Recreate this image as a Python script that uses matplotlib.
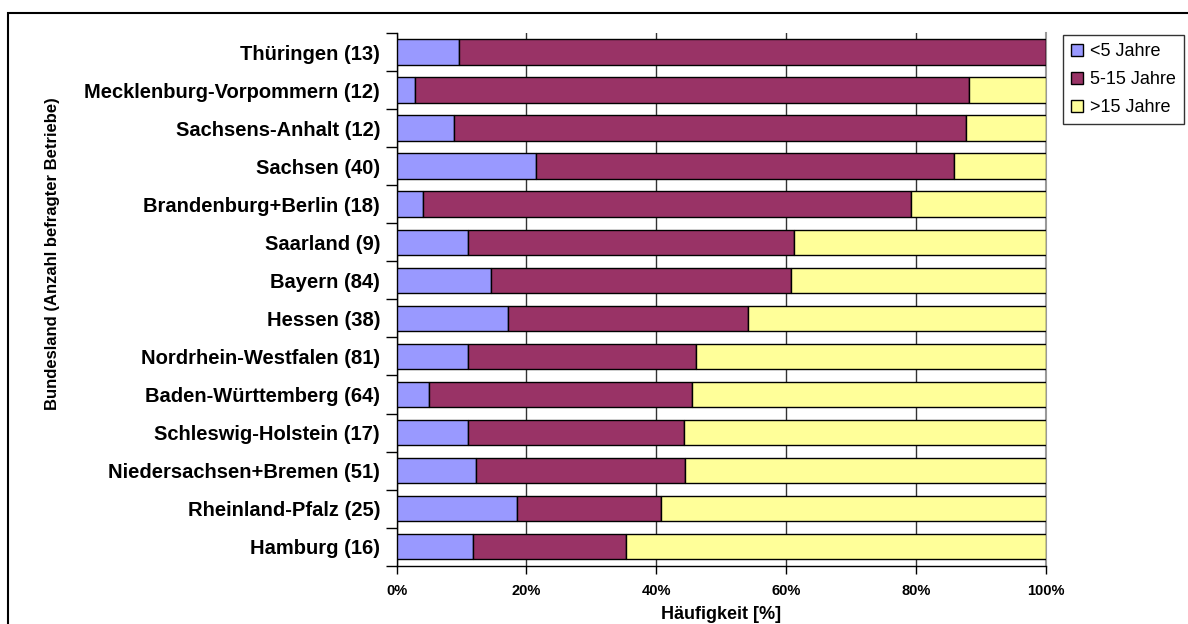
import numpy as np
import matplotlib.pyplot as plt
from matplotlib.patches import Rectangle
from matplotlib.ticker import FixedLocator, PercentFormatter

plt.rcParams['font.family'] = ['Liberation Sans', 'DejaVu Sans']

# categories top to bottom
states = ["Thüringen (13)", "Mecklenburg-Vorpommern (12)", "Sachsens-Anhalt (12)",
          "Sachsen (40)", "Brandenburg+Berlin (18)", "Saarland (9)", "Bayern (84)",
          "Hessen (38)", "Nordrhein-Westfalen (81)", "Baden-Württemberg (64)",
          "Schleswig-Holstein (17)", "Niedersachsen+Bremen (51)",
          "Rheinland-Pfalz (25)", "Hamburg (16)"]
under5 = [9.6, 2.9, 8.9, 21.5, 4.1, 11.0, 14.5, 17.1, 11.0, 5.0, 11.0, 12.2, 18.5, 11.8]
mid = [90.4, 85.3, 78.9, 64.3, 75.1, 50.2, 46.3, 37.1, 35.1, 40.5, 33.3, 32.2, 22.2, 23.5]
over15 = [0.0, 11.8, 12.2, 14.2, 20.8, 38.8, 39.2, 45.8, 53.9, 54.5, 55.7, 55.6, 59.3, 64.7]
series_names = ["<5 Jahre", "5-15 Jahre", ">15 Jahre"]
colors = ["#9999FF", "#993366", "#FFFF99"]

fig = plt.figure(figsize=(11.88, 6.24), dpi=100)
ax = fig.add_axes([0.3339, 0.0934, 0.5463, 0.8537])

y = np.arange(len(states))
left = np.zeros(len(states))
for vals, name, col in zip([under5, mid, over15], series_names, colors):
    vals = np.array(vals)
    ax.barh(y, vals, left=left, height=0.67, color=col, edgecolor='black',
            linewidth=1.0, label=name, zorder=3)
    left = left + vals

ax.set_xlim(0, 100)
ax.set_ylim(len(states) - 0.5, -0.5)

# x axis
ax.set_xticks([0, 20, 40, 60, 80, 100])
ax.xaxis.set_major_formatter(PercentFormatter(decimals=0))
ax.tick_params(axis='x', length=6, width=1, direction='out', pad=7)
for lbl in ax.get_xticklabels():
    lbl.set_fontsize(10.5)
    lbl.set_fontweight('bold')
ax.set_xlabel("Häufigkeit [%]", fontsize=13, fontweight='bold', labelpad=6)

# y axis: labels centered, ticks between categories
ax.set_yticks(y)
ax.set_yticklabels(states, fontsize=14.5, fontweight='bold')
ax.tick_params(axis='y', which='major', length=0, pad=12)
ax.yaxis.set_minor_locator(FixedLocator(np.arange(-0.5, len(states), 1.0)))
ax.tick_params(axis='y', which='minor', length=8, width=1, direction='out')
ax.set_ylabel("Bundesland (Anzahl befragter Betriebe)", fontsize=12,
              fontweight='bold')
ax.yaxis.set_label_coords(-0.519, 0.586)

# grid
ax.xaxis.grid(True, color='#333333', linewidth=1, zorder=0)
ax.set_axisbelow(True)
for s in ['left', 'bottom']:
    ax.spines[s].set_color('black')
    ax.spines[s].set_linewidth(1)
ax.spines['top'].set_visible(False)
ax.spines['right'].set_color('#999999')
ax.spines['right'].set_linewidth(1.5)

leg = ax.legend(loc='upper left', bbox_to_anchor=(1.027, 0.996), frameon=True,
                fancybox=False, edgecolor='black', fontsize=13,
                handlelength=0.65, handleheight=0.65, handletextpad=0.4,
                borderpad=0.45, labelspacing=0.6, borderaxespad=0)
leg.get_frame().set_linewidth(1)

# outer chart frame
fig.patches.append(Rectangle((8 / 1188, -0.1), 1.5, 1.1 - 13 / 624,
                             transform=fig.transFigure, fill=False,
                             edgecolor='black', linewidth=1.5))

fig.savefig("out.png", dpi=100)
